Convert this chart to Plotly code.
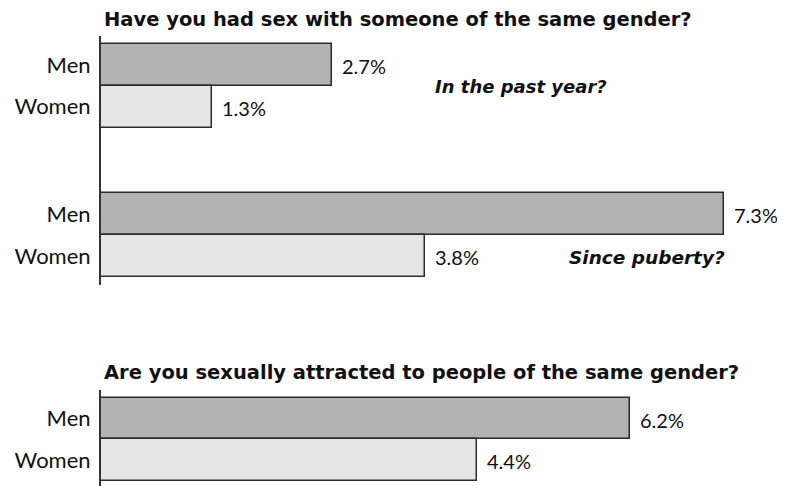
import plotly.graph_objects as go

# ---- data ----
genders = ["Men", "Women"]
past_year = [2.7, 1.3]
since_puberty = [7.3, 3.8]
attracted = [6.2, 4.4]
title_sex = "Have you had sex with someone of the same gender?"
title_attr = "Are you sexually attracted to people of the same gender?"
note_past = "In the past year?"
note_puberty = "Since puberty?"

MEN_C = "#b3b3b3"
WOMEN_C = "#e6e6e6"
EDGE = "#2a2a2a"
TXT = "#111111"
FONT = "Lato"
BFONT = "DejaVu Sans"

# page is drawn with an 8px body margin; work in page pixels and convert
OFF = 8
PW, PH = 785, 486
W, H = PW - OFF, PH - OFF
AXIS_X = 101                    # page x of the value axis origin
ML, MR = AXIS_X - OFF, 1
PLOT_W = W - ML - MR

def py(px):
    return 1 - (px - OFF) / H

def pxr(px):
    return (px - AXIS_X) / PLOT_W

fig = go.Figure()
series = [past_year, since_puberty, attracted]
for i, vals in enumerate(series, start=1):
    s = "" if i == 1 else str(i)
    fig.add_trace(go.Bar(
        x=vals, y=genders, orientation="h",
        xaxis=f"x{s}", yaxis=f"y{s}",
        marker=dict(color=[MEN_C, WOMEN_C], line=dict(color=EDGE, width=1.5)),
        width=1, showlegend=False, hoverinfo="skip",
    ))
    for g, v in zip(genders, vals):
        fig.add_annotation(x=v, y=g, xref=f"x{s}", yref=f"y{s}",
                           text=f"{v:.1f}%", showarrow=False, xanchor="left", xshift=8,
                           yshift=-1, font=dict(family=FONT, size=20, color=TXT))

domains = [(36, 160), (160, 285), (390, 486)]
ranges = [[2.275, -0.695], [1.69, -1.286], [1.627, -0.687]]
layout = {}
for i, ((top, bot), rng) in enumerate(zip(domains, ranges), start=1):
    s = "" if i == 1 else str(i)
    layout[f"xaxis{s}"] = dict(range=[0, PLOT_W / 85.375], visible=False,
                               anchor=f"y{s}", fixedrange=True, automargin=False)
    layout[f"yaxis{s}"] = dict(domain=[max(0, py(bot)), py(top)], range=rng, type="category",
                               showline=True, linecolor="#333333", linewidth=2,
                               showgrid=False, zeroline=False, ticks="",
                               ticklabelstandoff=4, anchor=f"x{s}", automargin=False,
                               tickfont=dict(family=FONT, size=22, color=TXT))
fig.update_layout(**layout)

fig.add_annotation(x=0, xref="paper", y=py(19.5), yref="paper", xanchor="left", yanchor="middle",
                   xshift=1, text=f"<b>{title_sex}</b>", showarrow=False,
                   font=dict(family=BFONT, size=19.5, color=TXT))
fig.add_annotation(x=0, xref="paper", y=py(372), yref="paper", xanchor="left", yanchor="middle",
                   xshift=1, text=f"<b>{title_attr}</b>", showarrow=False,
                   font=dict(family=BFONT, size=19.5, color=TXT))
fig.add_annotation(x=pxr(433), xref="paper", y=py(86.5), yref="paper",
                   xanchor="left", yanchor="middle", text=f"<b><i>{note_past}</i></b>",
                   showarrow=False, font=dict(family=BFONT, size=18, color=TXT))
fig.add_annotation(x=pxr(727), xref="paper", y=py(257.5), yref="paper",
                   xanchor="right", yanchor="middle", text=f"<b><i>{note_puberty}</i></b>",
                   showarrow=False, font=dict(family=BFONT, size=18.5, color=TXT))

fig.update_layout(width=W, height=H, margin=dict(l=ML, r=MR, t=0, b=0, autoexpand=False),
                  paper_bgcolor="white", plot_bgcolor="white", bargap=0)
fig.write_html("out.html")
